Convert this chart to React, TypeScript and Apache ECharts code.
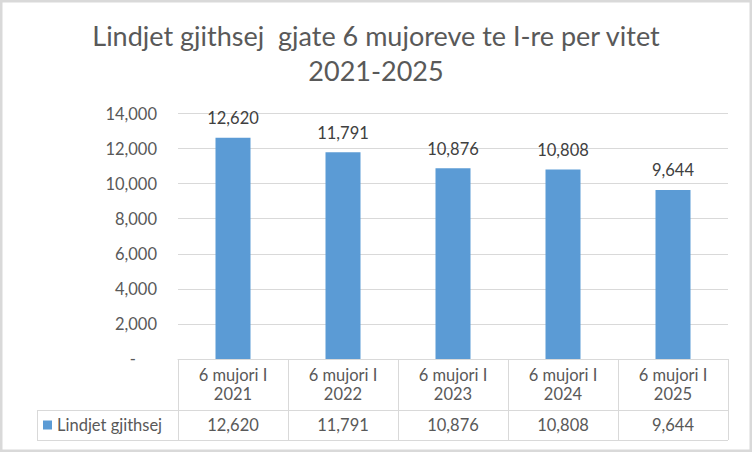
import React, { useEffect, useRef } from "react";
import * as echarts from "echarts";

const categories = ["6 mujori I\n2021", "6 mujori I\n2022", "6 mujori I\n2023", "6 mujori I\n2024", "6 mujori I\n2025"];
const values = [12620, 11791, 10876, 10808, 9644];
const seriesName = "Lindjet gjithsej";
const titleText = "Lindjet gjithsej  gjate 6 mujoreve te I-re per vitet\n2021-2025";
const yMax = 14000;
const yInterval = 2000;

const FONT = "Lato, 'Noto Sans', sans-serif";
const fmt = (v: number) => v.toLocaleString("en-US");

export default function App() {
  const ref = useRef<HTMLDivElement>(null);
  useEffect(() => {
    if (!ref.current) return;
    const chart = echarts.init(ref.current, undefined, { renderer: "svg" });
    const grey = "#d9d9d9";
    const txt = "#595959";
    chart.setOption({
      animation: false,
      backgroundColor: "#ffffff",
      textStyle: { fontFamily: FONT },
      title: {
        text: titleText,
        left: "center",
        top: 18,
        padding: 0,
        textStyle: { fontFamily: FONT, fontSize: 27, fontWeight: "normal", color: txt, lineHeight: 35 },
      },
      legend: {
        data: [seriesName],
        left: 43,
        top: 415,
        padding: 0,
        itemWidth: 9,
        itemHeight: 9,
        icon: "rect",
        textStyle: { fontFamily: FONT, fontSize: 16.5, color: txt, lineHeight: 20 },
      },
      grid: { left: 178, right: 24, top: 113.5, bottom: 93 },
      xAxis: [
        {
          type: "category",
          data: categories,
          position: "bottom",
          axisLine: { show: true, lineStyle: { color: grey, width: 1 } },
          axisTick: { show: true, interval: 0, length: 81, lineStyle: { color: grey } },
          axisLabel: { interval: 0, margin: 6, color: txt, fontSize: 16.5, lineHeight: 19, fontFamily: FONT },
        },
        {
          type: "category",
          data: categories,
          position: "bottom",
          axisLine: { show: false },
          axisTick: { show: false },
          axisLabel: {
            interval: 0,
            margin: 56,
            color: txt,
            fontSize: 16.5,
            lineHeight: 19,
            fontFamily: FONT,
            formatter: (_v: string, i: number) => fmt(values[i]),
          },
        },
      ],
      yAxis: {
        type: "value",
        min: 0,
        max: yMax,
        interval: yInterval,
        axisLine: { show: false },
        axisTick: { show: false },
        splitLine: { lineStyle: { color: grey } },
        axisLabel: {
          margin: 21,
          color: txt,
          fontSize: 16.5,
          fontFamily: FONT,
          formatter: (v: number) => (v === 0 ? "-     " : fmt(v)),
        },
      },
      series: [
        {
          name: seriesName,
          type: "bar",
          data: values,
          barWidth: 35,
          itemStyle: { color: "#5b9bd5" },
          label: {
            show: true,
            position: "top",
            distance: 11,
            color: "#404040",
            fontSize: 16.5,
            fontFamily: FONT,
            formatter: (p: any) => fmt(p.value),
          },
        },
      ],
      graphic: [
        { type: "rect", shape: { x: 1.25, y: 1.25, width: 749.5, height: 449.5 }, style: { fill: "none", stroke: grey, lineWidth: 2.5 }, silent: true },
        { type: "line", shape: { x1: 37, y1: 410.5, x2: 728, y2: 410.5 }, style: { stroke: grey, lineWidth: 1 }, silent: true },
        { type: "line", shape: { x1: 37, y1: 440.5, x2: 728, y2: 440.5 }, style: { stroke: grey, lineWidth: 1 }, silent: true },
        { type: "line", shape: { x1: 37.5, y1: 410, x2: 37.5, y2: 441 }, style: { stroke: grey, lineWidth: 1 }, silent: true },
      ],
    });
    return () => chart.dispose();
  }, []);
  return <div ref={ref} style={{ position: "fixed", left: 0, top: 0, width: 752, height: 452 }} />;
}
